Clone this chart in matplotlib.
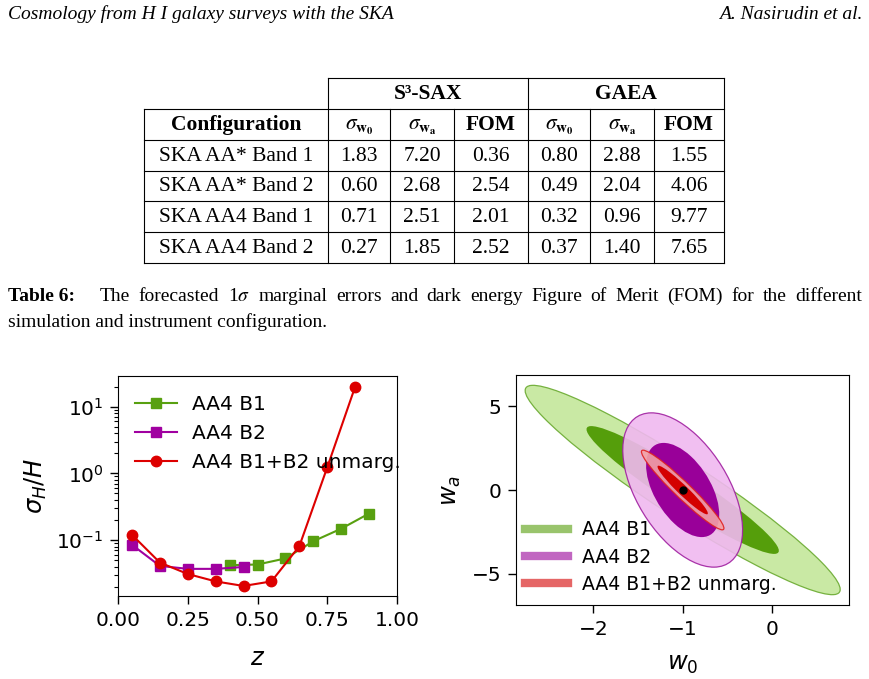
import numpy as np
import matplotlib
matplotlib.use('Agg')
import matplotlib.pyplot as plt
from matplotlib.patches import Ellipse
from matplotlib.lines import Line2D

# ---------------- data ----------------
table_rows = ['SKA AA* Band 1', 'SKA AA* Band 2', 'SKA AA4 Band 1', 'SKA AA4 Band 2']
s3sax_sigma_w0 = [1.83, 0.60, 0.71, 0.27]
s3sax_sigma_wa = [7.20, 2.68, 2.51, 1.85]
s3sax_fom = [0.36, 2.54, 2.01, 2.52]
gaea_sigma_w0 = [0.80, 0.49, 0.32, 0.37]
gaea_sigma_wa = [2.88, 2.04, 0.96, 1.40]
gaea_fom = [1.55, 4.06, 9.77, 7.65]

z_b1 = [0.4, 0.5, 0.6, 0.7, 0.8, 0.9]
sig_b1 = [0.042, 0.043, 0.053, 0.096, 0.148, 0.25]
z_b2 = [0.05, 0.15, 0.25, 0.35, 0.45]
sig_b2 = [0.085, 0.041, 0.037, 0.037, 0.0395]
z_comb = [0.05, 0.15, 0.25, 0.35, 0.45, 0.55, 0.65, 0.75, 0.85]
sig_comb = [0.12, 0.046, 0.031, 0.024, 0.0205, 0.024, 0.081, 1.23, 19.9]

ell_labels = ['AA4 B1', 'AA4 B2', 'AA4 B1+B2 unmarg.']
ell_sigma_w0 = [0.71, 0.27, 0.186]
ell_sigma_wa = [2.51, 1.85, 0.955]
ell_rho = [-0.95, -0.52, -0.96]
w0_fid, wa_fid = -1.0, 0.0

# ---------------- figure ----------------
W, H = 870, 679
fig = plt.figure(figsize=(8.7, 6.79), dpi=100)


def fx(px):
    return px / W


def fy(py):
    return 1 - py / H


serif = 'Liberation Serif'

# header
fig.text(fx(8), fy(19), 'Cosmology from H I galaxy surveys with the SKA', family=serif,
         style='italic', fontsize=14, va='baseline', ha='left')
fig.text(fx(862), fy(19), 'A. Nasirudin et al.', family=serif, style='italic',
         fontsize=14, va='baseline', ha='right')

# table
col_x = [144, 328, 390, 454, 528, 590, 654, 724]
row_y = [78, 109, 140, 170.5, 201, 232, 263]
lc = 'black'
lw = 0.8


def hline(y, x0, x1):
    fig.add_artist(Line2D([fx(x0), fx(x1)], [fy(y), fy(y)], color=lc, lw=lw))


def vline(x, y0, y1):
    fig.add_artist(Line2D([fx(x), fx(x)], [fy(y0), fy(y1)], color=lc, lw=lw))


hline(row_y[0], col_x[1], col_x[-1])
for y in row_y[1:]:
    hline(y, col_x[0], col_x[-1])
vline(col_x[0], row_y[1], row_y[-1])
for x in [col_x[1], col_x[4], col_x[7]]:
    vline(x, row_y[0], row_y[-1])
for x in [col_x[2], col_x[3], col_x[5], col_x[6]]:
    vline(x, row_y[1], row_y[-1])

tfs = 15.5


def cell(text, c0, c1, r, **kw):
    xc = (col_x[c0] + col_x[c1]) / 2
    yc = (row_y[r] + row_y[r + 1]) / 2
    fig.text(fx(xc), fy(yc + 5.5), text, ha='center', va='baseline', family=serif,
             fontsize=tfs, math_fontfamily='stix', **kw)


cell('S\u00b3-SAX', 1, 4, 0, weight='bold')
cell('GAEA', 4, 7, 0, weight='bold')
cell('Configuration', 0, 1, 1, weight='bold')
sw0 = r'$\sigma_{\mathbf{w}_{\mathbf{0}}}$'
swa = r'$\sigma_{\mathbf{w}_{\mathbf{a}}}$'
for k, lab in enumerate([sw0, swa, 'FOM', sw0, swa, 'FOM']):
    cell(lab, k + 1, k + 2, 1, weight='bold' if lab == 'FOM' else 'normal')
cols = [s3sax_sigma_w0, s3sax_sigma_wa, s3sax_fom, gaea_sigma_w0, gaea_sigma_wa, gaea_fom]
for i, name in enumerate(table_rows):
    cell(name, 0, 1, i + 2)
    for k, col in enumerate(cols):
        cell(f'{col[i]:.2f}', k + 1, k + 2, i + 2)

# caption
cfs = 14
fig.text(fx(8), fy(301), 'Table 6:', family=serif, weight='bold', fontsize=cfs,
         va='baseline', ha='left')


def justify(words, x0, x1, y):
    r = fig.canvas.get_renderer()
    ts = [fig.text(0, fy(y), w, va='baseline', ha='left', family=serif, fontsize=cfs,
                   math_fontfamily='stix') for w in words]
    widths = [t.get_window_extent(r).width for t in ts]
    gap = (x1 - x0 - sum(widths)) / (len(words) - 1)
    x = x0
    for t, w in zip(ts, widths):
        t.set_x(fx(x))
        x += w + gap


line1 = ['The', 'forecasted', r'1$\sigma$', 'marginal', 'errors', 'and', 'dark', 'energy',
         'Figure', 'of', 'Merit', '(FOM)', 'for', 'the', 'different']
justify(line1, 100, 862, 301)
fig.text(fx(8), fy(327), 'simulation and instrument configuration.', family=serif,
         fontsize=cfs, va='baseline', ha='left')

# ---------------- left plot ----------------
c_green = '#58a010'
c_purple = '#a000a0'
c_red = '#dd0000'

tick_kw = dict(labelsize=14.5)

ax1 = fig.add_axes([fx(118), fy(596), fx(397) - fx(118), fy(376) - fy(596)])
ax1.plot(z_b1, sig_b1, '-s', color=c_green, ms=7, lw=1.5, label='AA4 B1')
ax1.plot(z_b2, sig_b2, '-s', color=c_purple, ms=7, lw=1.5, label='AA4 B2')
ax1.plot(z_comb, sig_comb, '-o', color=c_red, ms=7.5, lw=1.5, label='AA4 B1+B2 unmarg.')
ax1.set_yscale('log')
ax1.set_xlim(0, 1)
ax1.set_ylim(0.0145, 28.8)
ax1.set_xticks([0, 0.25, 0.5, 0.75, 1.0])
ax1.set_xticklabels(['0.00', '0.25', '0.50', '0.75', '1.00'])
ax1.tick_params(which='major', length=5.5, width=1, pad=5, **tick_kw)
ax1.tick_params(which='minor', length=3, width=0.8)
ax1.set_xlabel(r'$z$', fontsize=17.5, labelpad=12)
ax1.set_ylabel(r'$\sigma_H/H$', fontsize=17.5, labelpad=5)
ax1.legend(loc='upper left', bbox_to_anchor=(0.032, 0.952), borderaxespad=0,
           frameon=False, fontsize=14.5, labelspacing=0.5, handlelength=2.1,
           handletextpad=0.75)

# ---------------- right plot ----------------
ax2 = fig.add_axes([fx(516), fy(605), fx(849) - fx(516), fy(375) - fy(605)])

k1, k2 = np.sqrt(2.30), np.sqrt(6.17)
styles = [
    dict(outer='#c4e79a', edge='#6aaa30', inner='#559e0b'),
    dict(outer='#f0b8f0', edge='#a020a0', inner='#990099'),
    dict(outer='#f3a2a6', edge='#e02020', inner='#d40000'),
]


def add_ellipse(ax, sx, sy, rho, k, **kw):
    cov = np.array([[sx ** 2, rho * sx * sy], [rho * sx * sy, sy ** 2]])
    vals, vecs = np.linalg.eigh(cov)
    order = vals.argsort()[::-1]
    vals, vecs = vals[order], vecs[:, order]
    angle = np.degrees(np.arctan2(vecs[1, 0], vecs[0, 0]))
    e = Ellipse((w0_fid, wa_fid), 2 * k * np.sqrt(vals[0]), 2 * k * np.sqrt(vals[1]),
                angle=angle, **kw)
    ax.add_patch(e)


for sx, sy, rho, st in zip(ell_sigma_w0, ell_sigma_wa, ell_rho, styles):
    add_ellipse(ax2, sx, sy, rho, k2, facecolor=st['outer'], edgecolor=st['edge'],
                lw=0.9, alpha=0.9)
    add_ellipse(ax2, sx, sy, rho, k1, facecolor=st['inner'], edgecolor='none', lw=0)

ax2.plot([w0_fid], [wa_fid], 'o', color='black', ms=5)
ax2.set_xlim(-2.866, 0.862)
ax2.set_ylim(-6.85, 6.85)
ax2.set_xticks([-2, -1, 0])
ax2.set_yticks([-5, 0, 5])
ax2.tick_params(which='major', length=5.5, width=1, pad=5, **tick_kw)
ax2.set_xlabel(r'$w_0$', fontsize=17.5, labelpad=10)
ax2.set_ylabel(r'$w_a$', fontsize=17.5, labelpad=6)
handles = [Line2D([], [], color=st['inner'], alpha=0.6, lw=6) for st in styles]
ax2.legend(handles, ell_labels, loc='lower left', bbox_to_anchor=(0.005, 0.015),
           borderaxespad=0, frameon=False, fontsize=13.5, labelspacing=0.45,
           handlelength=2.3, handletextpad=0.75)

fig.savefig('out.png', dpi=100)
